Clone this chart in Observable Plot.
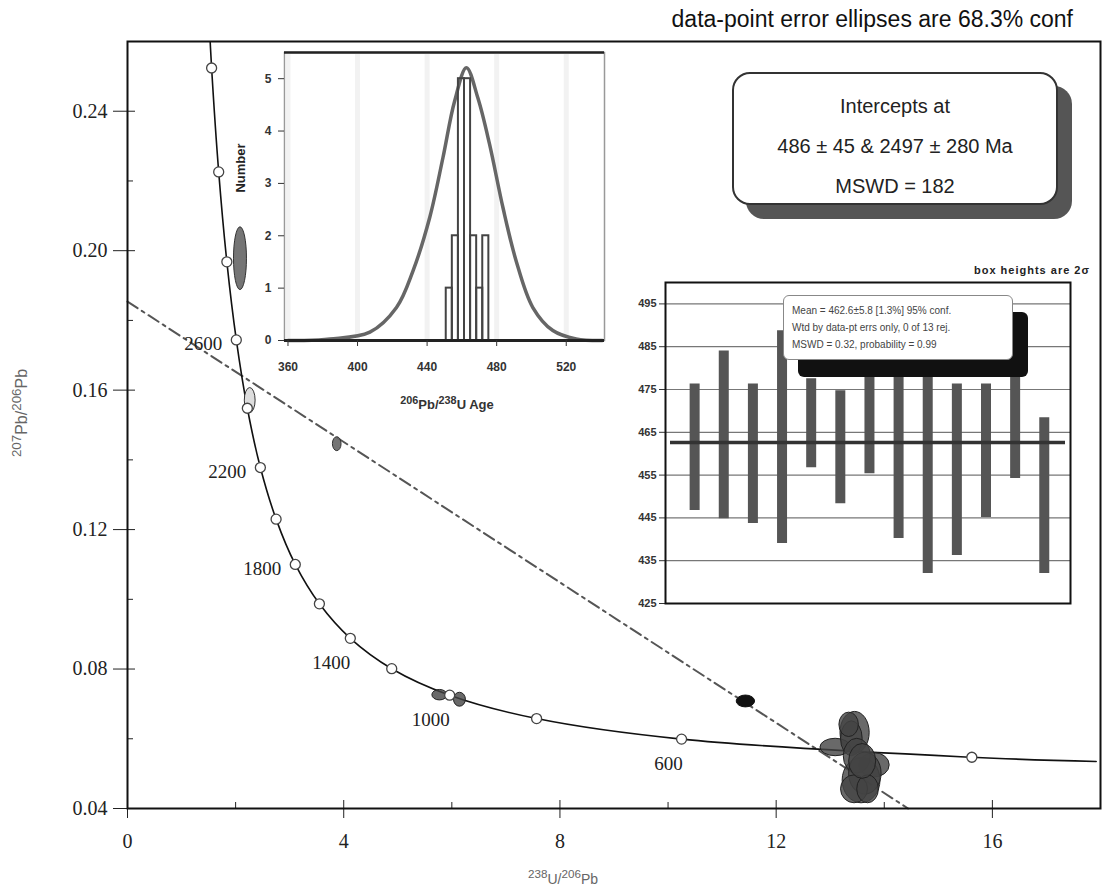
<!DOCTYPE html>
<html><head><meta charset="utf-8">
<script src="https://cdn.jsdelivr.net/npm/d3@7"></script>
<script src="https://cdn.jsdelivr.net/npm/@observablehq/plot@0.6"></script>
<style>
body{margin:0;background:#fff;}
#wrap{position:relative;width:1110px;height:890px;overflow:hidden;background:#fff;}
#wrap svg{position:absolute;overflow:visible;background:transparent;}
.abs{position:absolute;white-space:nowrap;}
</style></head><body><div id="wrap"></div>
<script>
// ---------- main concordia diagram data ----------
const concAge = [3300,3200,3000,2800,2600,2400,2200,2000,1800,1600,1400,1200,1000,800,600,400,350];
const concX   = [1.50,1.556,1.687,1.838,2.013,2.217,2.458,2.749,3.104,3.55,4.122,4.888,5.96,7.568,10.25,15.62,17.92];
const concY   = [0.269,0.2524,0.2226,0.1968,0.1744,0.1548,0.1378,0.1230,0.1100,0.0987,0.0888,0.0801,0.0725,0.0658,0.0599,0.0547,0.0535];
const markerAges = [3200,3000,2800,2600,2400,2200,2000,1800,1600,1400,1200,1000,800,600,400];
const labelAges  = [2600,2200,1800,1400,1000,600];

const discX = [0, 14.44];
const discY = [0.1854, 0.04];

const ellX  = [2.09,2.27,3.88,5.78,6.15,11.44,13.46,13.10,13.82,13.58,13.40,13.50,13.65,13.45,13.70,13.35,13.60];
const ellY  = [0.1977,0.157,0.1445,0.0725,0.0712,0.0707,0.0617,0.0575,0.0524,0.0480,0.0600,0.0550,0.0500,0.0455,0.0455,0.0640,0.0535];
const ellSX = [0.12,0.10,0.08,0.14,0.11,0.17,0.27,0.28,0.28,0.35,0.20,0.25,0.30,0.25,0.20,0.18,0.25];
const ellSY = [0.0090,0.0036,0.0020,0.0015,0.0020,0.0017,0.0060,0.0025,0.0035,0.0065,0.0050,0.0050,0.0060,0.0040,0.0040,0.0035,0.0050];
const ellTone = ["mid","light","mid","dark","dark","black","dark","dark","dark","dark","dark","dark","dark","dark","dark","dark","dark"];

const xTicks = [0,4,8,12,16];
const xMinor = [2,6,10,14];
const yTicks = [0.04,0.08,0.12,0.16,0.20,0.24];
const yMinor = [0.06,0.10,0.14,0.18,0.22];

// ---------- histogram inset data ----------
const histX1 = [451,454.5,458,461.5,465,468.5,472];
const histX2 = [454.5,458,461.5,465,468.5,472,475.5];
const histN  = [1,2,5,5,2,1,2];
const pdfAge = [360,368.6,384.1,407.1,422.4,431.9,441.5,449.1,455.8,462.6,469.2,475.9,483.6,491.2,500.8,512.3,525.7,540.8];
const pdfVal = [0,0,0.03,0.16,0.63,1.33,2.35,3.49,4.57,5.21,4.63,3.75,2.54,1.52,0.63,0.19,0.03,0];
const ageTicks = [360,400,440,480,520];
const numTicks = [0,1,2,3,4,5];

// ---------- weighted-average inset data ----------
const spotNo  = [1,2,3,4,5,6,7,8,9,10,11,12,13];
const spotLo  = [446.7,444.8,443.7,439.0,456.7,448.3,455.3,440.2,432.0,436.2,445.1,454.2,432.0];
const spotHi  = [476.3,484.0,476.3,488.7,477.5,474.7,478.0,482.0,479.0,476.3,476.3,480.0,468.4];
const wMean = 462.6;
const wTicks = [425,435,445,455,465,475,485,495];

// ---------- build tables ----------
const conc = concAge.map((a,i)=>({age:a,x:concX[i],y:concY[i]}));
const markers = conc.filter(d=>markerAges.includes(d.age));
const labels = conc.filter(d=>labelAges.includes(d.age));
const disc = discX.map((x,i)=>({x,y:discY[i]}));
const ells = ellX.map((x,i)=>({x,y:ellY[i],sx:ellSX[i],sy:ellSY[i],tone:ellTone[i]}));
const bins = histN.map((n,i)=>({x1:histX1[i],x2:histX2[i],n}));
const pdf = pdfAge.map((a,i)=>({a,v:pdfVal[i]}));
const spots = spotNo.map((k,i)=>({k,lo:spotLo[i],hi:spotHi[i]}));

const ellMark = (tone, fill, stroke, op) => Plot.rect(ells.filter(d=>d.tone===tone), {
  x1:d=>d.x-d.sx, x2:d=>d.x+d.sx, y1:d=>d.y-d.sy, y2:d=>d.y+d.sy,
  rx:200, ry:200, fill, stroke, strokeWidth:1, fillOpacity:op
});

const wrap = document.getElementById("wrap");

const main = Plot.plot({
  width:1110, height:890, marginLeft:127, marginRight:10, marginTop:41, marginBottom:82,
  style:{fontFamily:"'Liberation Serif', serif", fontSize:"20px", color:"#222", background:"transparent"},
  x:{domain:[0,18]}, y:{domain:[0.04,0.26]},
  marks:[
    Plot.axisY({ticks:yTicks, tickFormat:d3.format(".2f"), tickSize:14, tickPadding:6, label:null, fontSize:20}),
    Plot.axisY({ticks:yTicks, tickSize:-8, text:null, label:null}),
    Plot.axisY({ticks:yMinor, tickSize:-6, text:null, label:null}),
    Plot.axisX({ticks:xTicks, tickSize:10, tickPadding:15, label:null, fontSize:20}),
    Plot.axisX({ticks:xTicks, tickSize:-8, text:null, label:null}),
    Plot.axisX({ticks:xMinor, tickSize:-6, text:null, label:null}),
    Plot.line(disc, {x:"x", y:"y", stroke:"#555", strokeWidth:2, strokeDasharray:"12,5,3,5"}),
    Plot.line(conc, {x:"x", y:"y", curve:"catmull-rom", stroke:"#111", strokeWidth:1.6, clip:true}),
    ellMark("mid", "#666", "#333", 0.9),
    ellMark("light", "#ddd", "#333", 1),
    ellMark("dark", "#444", "#222", 0.8),
    ellMark("black", "#111", "#111", 1),
    Plot.dot(markers, {x:"x", y:"y", r:5, fill:"white", stroke:"#444", strokeWidth:1.3}),
    Plot.text(labels.filter(d=>d.age>=1800), {x:"x", y:"y", text:d=>String(d.age), textAnchor:"end", dx:-14, dy:4, fontSize:19}),
    Plot.text(labels.filter(d=>d.age===1400||d.age===1000), {x:"x", y:"y", text:d=>String(d.age), textAnchor:"end", dx:0, dy:25, fontSize:19}),
    Plot.text(labels.filter(d=>d.age===600), {x:"x", y:"y", text:d=>String(d.age), textAnchor:"middle", dx:-13, dy:25, fontSize:19}),
    Plot.frame({stroke:"#111", strokeWidth:2})
  ]
});
main.style.left="0px"; main.style.top="0px";
wrap.appendChild(main);

// histogram / probability inset
const ins1 = Plot.plot({
  width:390, height:360, marginLeft:54, marginRight:16, marginTop:7, marginBottom:65,
  style:{fontFamily:"'Liberation Sans', sans-serif", fontSize:"12px", fontWeight:"bold", color:"#333", background:"transparent"},
  x:{domain:[358,542]}, y:{domain:[0,5.5]},
  marks:[
    Plot.frame({fill:"white", stroke:"#999", strokeWidth:1.5}),
    Plot.ruleX(ageTicks, {stroke:"#f2f2f2", strokeWidth:5}),
    Plot.line(pdf, {x:"a", y:"v", curve:"catmull-rom", stroke:"#666", strokeWidth:3.5}),
    Plot.rectY(bins, {x1:"x1", x2:"x2", y:"n", fill:"none", stroke:"#444", strokeWidth:2}),
    Plot.ruleY([0], {stroke:"#222", strokeWidth:3}),
    Plot.ruleY([5.5], {stroke:"#222", strokeWidth:2.5}),
    Plot.axisX({ticks:ageTicks, tickSize:6, tickPadding:16, label:null}),
    Plot.axisY({ticks:numTicks, tickFormat:d3.format("d"), tickSize:6, tickPadding:7, label:null})
  ]
});
ins1.style.left="230px"; ins1.style.top="45px";
wrap.appendChild(ins1);

// weighted average inset
const ins2 = Plot.plot({
  width:460, height:340, marginLeft:45, marginRight:10, marginTop:7, marginBottom:12,
  style:{fontFamily:"'Liberation Sans', sans-serif", fontSize:"11px", fontWeight:"bold", color:"#333", background:"transparent"},
  x:{domain:[0,13.9], axis:null}, y:{domain:[425,500]},
  marks:[
    Plot.frame({fill:"white"}),
    Plot.ruleY(wTicks, {stroke:"#777", strokeWidth:1.2}),
    Plot.ruleX(spots, {x:"k", y1:"lo", y2:"hi", stroke:"#555", strokeWidth:10}),
    Plot.ruleY([wMean], {stroke:"#333", strokeWidth:3.5, insetLeft:5, insetRight:5}),
    Plot.axisY({ticks:wTicks, tickSize:6, tickPadding:3, label:null}),
    Plot.frame({stroke:"#111", strokeWidth:2})
  ]
});
ins2.style.left="620px"; ins2.style.top="275px";
wrap.appendChild(ins2);

function addDiv(html, css){
  const d=document.createElement("div"); d.className="abs"; d.innerHTML=html;
  Object.assign(d.style, css); wrap.appendChild(d); return d;
}
// title
addDiv("data-point error ellipses are 68.3% conf", {right:"37px", top:"6px", fontFamily:"'Liberation Sans', sans-serif", fontSize:"23px", color:"#111"});
// axis titles
addDiv("<sup>207</sup>Pb/<sup>206</sup>Pb", {left:"20px", top:"413px", transform:"translate(-50%,-50%) rotate(-90deg)", fontFamily:"'Liberation Sans', sans-serif", fontSize:"16px", color:"#666"});
addDiv("<sup>238</sup>U/<sup>206</sup>Pb", {left:"563px", top:"877px", transform:"translate(-50%,-50%)", fontFamily:"'Liberation Sans', sans-serif", fontSize:"14px", color:"#666"});
addDiv("<sup>206</sup>Pb/<sup>238</sup>U Age", {left:"447px", top:"403px", transform:"translate(-50%,-50%)", fontFamily:"'Liberation Sans', sans-serif", fontSize:"13px", fontWeight:"bold", color:"#333"});
addDiv("Number", {left:"240px", top:"168px", transform:"translate(-50%,-50%) rotate(-90deg)", fontFamily:"'Liberation Sans', sans-serif", fontSize:"13px", fontWeight:"bold", color:"#222"});
// intercept box
addDiv("Intercepts at<br>486 ± 45 &amp; 2497 ± 280 Ma<br>MSWD = 182", {left:"732px", top:"72px", border:"2px solid #333", borderRadius:"18px", background:"#fff", boxShadow:"14px 14px 0 #555", textAlign:"center", fontFamily:"'Liberation Sans', sans-serif", fontSize:"20px", lineHeight:"40px", paddingTop:"12px", boxSizing:"border-box", height:"133px", width:"326px", color:"#222"});
// weighted-average legend
addDiv("box heights are 2σ", {right:"20px", top:"264px", fontFamily:"'Liberation Sans', sans-serif", fontSize:"11px", fontWeight:"bold", color:"#222", letterSpacing:"1px"});
addDiv("Mean = 462.6±5.8 [1.3%] 95% conf.<br>Wtd by data-pt errs only, 0 of 13 rej.<br>MSWD = 0.32, probability = 0.99", {left:"783px", top:"295px", width:"230px", height:"65px", boxSizing:"border-box", background:"#fff", border:"1px solid #888", borderRadius:"6px", boxShadow:"15px 17px 0 #111", fontFamily:"'Liberation Sans', sans-serif", fontSize:"10px", lineHeight:"17px", padding:"6px 8px", color:"#444"});
</script>
</body></html>
